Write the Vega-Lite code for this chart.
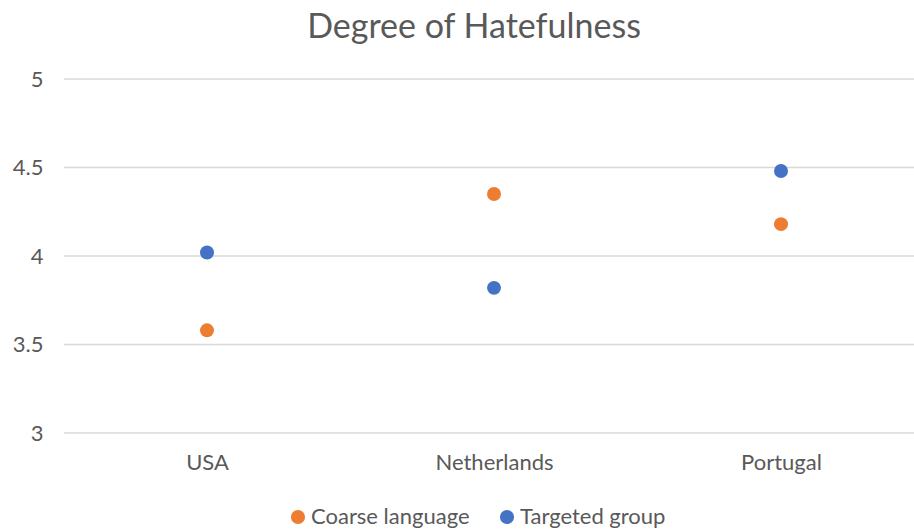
{
  "$schema": "https://vega.github.io/schema/vega-lite/v6.json",
  "autosize": "none",
  "width": 850,
  "height": 354,
  "padding": {"left": 64, "top": 79, "right": 0, "bottom": 98},
  "background": "white",
  "view": {"stroke": null},
  "title": {
    "text": "Degree of Hatefulness",
    "font": "Lato",
    "fontSize": 34,
    "fontWeight": "normal",
    "color": "#595959",
    "anchor": "middle",
    "dx": -15,
    "offset": 23
  },
  "datasets": {
    "points": [
      {"country": "USA", "series": "Coarse language", "value": 3.58},
      {"country": "USA", "series": "Targeted group", "value": 4.02},
      {"country": "Netherlands", "series": "Coarse language", "value": 4.35},
      {"country": "Netherlands", "series": "Targeted group", "value": 3.82},
      {"country": "Portugal", "series": "Coarse language", "value": 4.18},
      {"country": "Portugal", "series": "Targeted group", "value": 4.48}
    ],
    "grid": [{"v": 3}, {"v": 3.5}, {"v": 4}, {"v": 4.5}, {"v": 5}]
  },
  "layer": [
    {
      "data": {"name": "grid"},
      "mark": {"type": "rule", "color": "#d9d9d9", "strokeWidth": 1.3},
      "encoding": {
        "y": {"field": "v", "type": "quantitative", "scale": {"domain": [3, 5], "nice": false, "zero": false}}
      }
    },
    {
      "data": {"name": "points"},
      "mark": {"type": "circle", "size": 195, "opacity": 1},
      "encoding": {
        "x": {
          "field": "country",
          "type": "nominal",
          "sort": ["USA", "Netherlands", "Portugal"],
          "scale": {"type": "point", "range": [143, 717], "padding": 0},
          "axis": {
            "title": null,
            "labelAngle": 0,
            "domain": false,
            "ticks": false,
            "grid": false,
            "labelFont": "Lato",
            "labelFontSize": 22,
            "labelColor": "#595959",
            "labelPadding": 19
          }
        },
        "y": {
          "field": "value",
          "type": "quantitative",
          "scale": {"domain": [3, 5], "nice": false, "zero": false},
          "axis": {
            "title": null,
            "values": [3, 3.5, 4, 4.5, 5],
            "format": ".1~f",
            "domain": false,
            "ticks": false,
            "grid": false,
            "labelFont": "Lato",
            "labelFontSize": 22,
            "labelColor": "#595959",
            "labelPadding": 21
          }
        },
        "color": {
          "field": "series",
          "type": "nominal",
          "scale": {"domain": ["Coarse language", "Targeted group"], "range": ["#ED7D31", "#4472C4"]},
          "legend": {
            "title": null,
            "orient": "none",
            "direction": "horizontal",
            "legendX": 223,
            "legendY": 427,
            "symbolType": "circle",
            "symbolSize": 200,
            "symbolOpacity": 1,
            "labelFont": "Lato",
            "labelFontSize": 22,
            "labelColor": "#595959",
            "columnPadding": 26,
            "labelOffset": 2
          }
        }
      }
    }
  ]
}
